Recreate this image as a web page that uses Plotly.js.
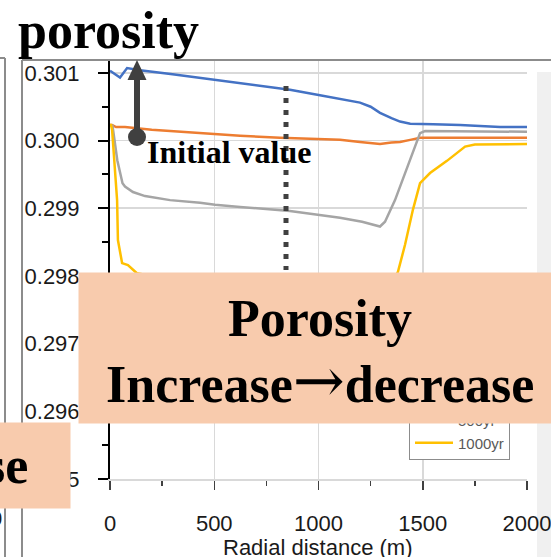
<!DOCTYPE html>
<html><head><meta charset="utf-8">
<script src="https://cdn.plot.ly/plotly-3.0.1.min.js"></script>
<style>html,body{margin:0;padding:0;background:#fff;overflow:hidden}#chart{width:551px;height:557px}</style>
</head><body><div id="chart"></div>
<script>
// ---- data ----
const seriesNames = ['10yr', '100yr', '500yr', '1000yr'];
const seriesColors = ['#4472C4', '#ED7D31', '#A5A5A5', '#FFC000'];

const blueDist = [0, 10, 48, 82, 110, 144, 300, 500, 767, 863, 1007, 1103, 1199, 1250, 1295, 1350, 1391, 1440, 1487, 1550, 1679, 1800, 1871, 2000];
const blueVal  = [0.30103, 0.30101, 0.30093, 0.30107, 0.30106, 0.30104, 0.30098, 0.30090, 0.30079, 0.30075, 0.30067, 0.30062, 0.30056, 0.30050, 0.30041, 0.30033, 0.30028, 0.30025, 0.30025, 0.30024, 0.30023, 0.30021, 0.30020, 0.30020];

const orangeDist = [0, 10, 29, 72, 200, 432, 624, 815, 1007, 1103, 1199, 1250, 1295, 1350, 1391, 1440, 1487, 1600, 2000];
const orangeVal  = [0.30023, 0.30023, 0.30020, 0.30020, 0.30016, 0.30011, 0.30007, 0.30004, 0.30002, 0.30001, 0.29998, 0.29996, 0.29995, 0.29997, 0.29998, 0.30001, 0.30004, 0.30004, 0.30004];

const grayDist = [0, 12, 35, 60, 72, 110, 168, 288, 432, 504, 624, 767, 863, 1103, 1209, 1295, 1319, 1367, 1439, 1487, 1511, 1600, 2000];
const grayVal  = [0.30023, 0.30022, 0.29971, 0.29937, 0.29932, 0.29924, 0.29918, 0.29912, 0.29908, 0.29905, 0.29902, 0.29899, 0.29896, 0.29886, 0.29880, 0.29873, 0.29880, 0.29912, 0.29971, 0.30011, 0.30014, 0.30014, 0.30013];

const yellowDist = [0, 5, 10, 34, 38, 58, 86, 129, 200, 400, 700, 1000, 1200, 1330, 1381, 1415, 1453, 1487, 1535, 1616, 1703, 1750, 1871, 2000];
const yellowVal  = [0.30023, 0.30023, 0.30016, 0.29912, 0.29853, 0.29819, 0.29816, 0.29804, 0.29800, 0.29795, 0.29788, 0.29782, 0.29777, 0.29775, 0.29806, 0.29846, 0.29898, 0.29937, 0.29952, 0.29970, 0.29991, 0.29994, 0.29995, 0.29995];

const xTickVals = [0, 500, 1000, 1500, 2000];
const yTickVals = [0.295, 0.296, 0.297, 0.298, 0.299, 0.300, 0.301];
const yTickText = ['0.295', '0.296', '0.297', '0.298', '0.299', '0.300', '0.301'];
const xAxisTitle = 'Radial distance (m)';

// ---- layout helpers (pixel -> paper) ----
const W = 551, H = 557, ML = 110, MR = 24, MT = 60, MB = 78;
const PW = W - ML - MR, PH = H - MT - MB;
const px = v => (v - ML) / PW;
const py = v => (H - MB - v) / PH;

const xs = [blueDist, orangeDist, grayDist, yellowDist];
const ys = [blueVal, orangeVal, grayVal, yellowVal];
const traces = seriesNames.map((n, i) => ({
  type: 'scatter', mode: 'lines', name: n, x: xs[i], y: ys[i],
  line: {color: seriesColors[i], width: 2.5}
}));

const serif = 'Liberation Serif, Times New Roman, serif';
const sans = 'Liberation Sans, Arial, sans-serif';
const dark = '#404040';
const peach = '#F8CBAD';

const layout = {
  width: W, height: H,
  margin: {l: ML, r: MR, t: MT, b: MB, pad: 0},
  paper_bgcolor: '#fff', plot_bgcolor: '#fff',
  showlegend: true,
  legend: {x: px(409), y: py(460), xanchor: 'left', yanchor: 'bottom',
    bgcolor: '#fff', bordercolor: '#8c8c8c', borderwidth: 1,
    font: {family: sans, size: 15, color: '#595959'}, tracegroupgap: 0, itemwidth: 38},
  xaxis: {range: [0, 2000], tickvals: xTickVals, showgrid: true, gridcolor: '#d9d9d9', gridwidth: 1.5,
    zeroline: false, showline: true, linecolor: '#d9d9d9', linewidth: 1.5,
    ticks: 'outside', ticklen: 9, tickwidth: 1.5, tickcolor: dark, ticklabelstandoff: 15, ticklabeloverflow: 'allow',
    minor: {dtick: 250, tick0: 0, ticks: 'outside', ticklen: 5, tickwidth: 1.5, tickcolor: dark, showgrid: false},
    tickfont: {family: sans, size: 22, color: '#1a1a1a'}},
  yaxis: {range: [0.295, 0.30119], tickvals: yTickVals, ticktext: yTickText, showgrid: true, gridcolor: '#d9d9d9', gridwidth: 1.5,
    zeroline: false, showline: true, linecolor: '#000', linewidth: 2,
    ticks: 'outside', ticklen: 10, tickwidth: 2, tickcolor: '#000', ticklabelstandoff: 14, ticklabeloverflow: 'allow',
    minor: {dtick: 0.0005, tick0: 0.295, ticks: 'outside', ticklen: 6, tickwidth: 2, tickcolor: '#000', showgrid: false},
    tickfont: {family: sans, size: 22, color: '#1a1a1a'}},
  shapes: [
    {type: 'rect', xref: 'paper', yref: 'paper', x0: px(537), x1: px(570), y0: py(72), y1: py(570), fillcolor: '#f0f0f0', line: {width: 0}, layer: 'below'},
    {type: 'line', xref: 'paper', yref: 'paper', x0: px(22), x1: px(560), y0: py(60), y1: py(60), line: {color: '#8c8c8c', width: 2}},
    {type: 'line', xref: 'paper', yref: 'paper', x0: px(22), x1: px(22), y0: py(60), y1: py(570), line: {color: '#8c8c8c', width: 2}},
    {type: 'line', xref: 'paper', yref: 'paper', x0: px(5), x1: px(5), y0: py(58), y1: py(570), line: {color: '#8c8c8c', width: 2}},
    {type: 'line', xref: 'paper', yref: 'paper', x0: px(-5), x1: px(5), y0: py(58), y1: py(58), line: {color: '#8c8c8c', width: 2}},
    // dotted marker line
    {type: 'line', xref: 'paper', yref: 'paper', x0: px(286), x1: px(286), y0: py(86), y1: py(270), line: {color: dark, width: 5, dash: '5px,7px'}},
    // arrow
    {type: 'line', xref: 'paper', yref: 'paper', x0: px(137), x1: px(137), y0: py(138), y1: py(78), line: {color: dark, width: 6}},
    {type: 'path', xref: 'paper', yref: 'paper', path: `M ${px(127.5)} ${py(80)} L ${px(146.5)} ${py(80)} L ${px(137)} ${py(60)} Z`, fillcolor: dark, line: {width: 0}},
    {type: 'circle', xref: 'paper', yref: 'paper', x0: px(128), x1: px(146), y0: py(128), y1: py(146), fillcolor: dark, line: {width: 0}}
  ],
  annotations: [
    {text: xAxisTitle, xref: 'paper', yref: 'paper', x: px(318), y: py(547), xanchor: 'center', yanchor: 'middle', showarrow: false,
      font: {family: sans, size: 22, color: '#1a1a1a'}},
    {text: '<b>porosity</b>', xref: 'paper', yref: 'paper', x: px(16), y: py(30), xanchor: 'left', yanchor: 'middle', showarrow: false,
      font: {family: serif, size: 52, color: '#000'}},
    {text: '<b>Initial value</b>', xref: 'paper', yref: 'paper', x: px(145), y: py(152), xanchor: 'left', yanchor: 'middle', showarrow: false,
      font: {family: serif, size: 32, color: '#000'}},
    {text: ' ', xref: 'paper', yref: 'paper', x: px(78), y: py(272), xanchor: 'left', yanchor: 'top', showarrow: false,
      width: 484, height: 150, bgcolor: peach, borderpad: 0, font: {size: 10}},
    {text: '<b>Porosity</b>', xref: 'paper', yref: 'paper', x: px(320), y: py(318), xanchor: 'center', yanchor: 'middle', showarrow: false,
      font: {family: serif, size: 52, color: '#000'}},
    {text: '<b>Increase<span style="font-family:DejaVu Serif;font-weight:normal;font-size:62px">→</span>decrease</b>', xref: 'paper', yref: 'paper', x: px(320), y: py(380), xanchor: 'center', yanchor: 'middle', showarrow: false,
      font: {family: serif, size: 52, color: '#000'}},
    {text: ' ', xref: 'paper', yref: 'paper', x: px(-20), y: py(422), xanchor: 'left', yanchor: 'top', showarrow: false,
      width: 89, height: 85, bgcolor: peach, borderpad: 0, font: {size: 10}},
    {text: '<b>se</b>', xref: 'paper', yref: 'paper', x: px(30), y: py(465), xanchor: 'right', yanchor: 'middle', showarrow: false,
      font: {family: serif, size: 52, color: '#000'}},
    {text: '0', xref: 'paper', yref: 'paper', x: px(4), y: py(518), xanchor: 'right', yanchor: 'middle', showarrow: false,
      font: {family: sans, size: 22, color: '#1a1a1a'}}
  ]
};

Plotly.newPlot('chart', traces, layout, {displayModeBar: false, staticPlot: true});
</script>
</body></html>
